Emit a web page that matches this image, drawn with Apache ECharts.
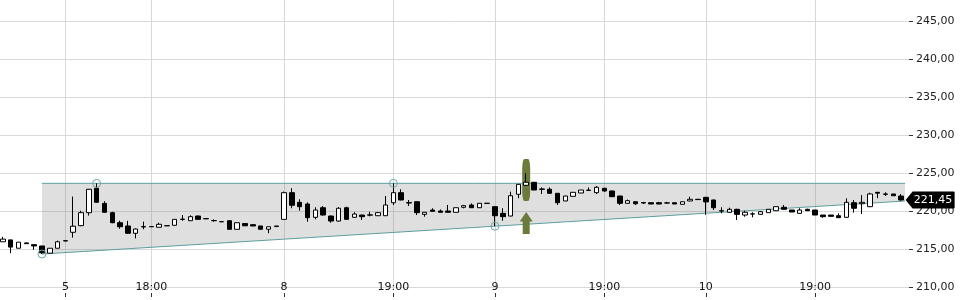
<!DOCTYPE html>
<html>
<head>
<meta charset="utf-8">
<script src="https://cdn.jsdelivr.net/npm/echarts@6/dist/echarts.min.js"></script>
<style>
html,body{margin:0;padding:0;background:#fff;}
#chart{width:960px;height:300px;}
</style>
</head>
<body>
<div id="chart"></div>
<script>
// ---- data ----
const open = [215.95,216.20,215.10,215.80,215.57,215.40,214.45,215.10,216.05,217.20,
218.07,219.78,223.00,221.00,219.78,218.46,218.03,217.07,217.90,217.93,
217.86,218.05,218.12,218.90,218.72,219.34,219.00,218.72,218.60,218.72,
217.59,218.35,218.20,218.03,217.60,217.95,218.90,222.41,221.14,220.92,
219.17,220.43,219.34,218.68,220.43,219.17,219.47,219.45,219.38,219.38,
221.09,222.41,221.10,221.22,219.56,220.13,220.00,220.00,219.83,220.49,
220.79,220.43,221.00,220.57,219.69,219.34,222.20,223.38,223.78,222.90,
222.86,222.33,221.32,221.93,222.37,222.70,222.41,222.99,222.63,221.97,
221.01,221.22,221.10,221.09,221.09,221.05,221.09,220.88,221.32,221.54,
221.80,221.45,220.04,219.83,220.22,219.47,219.60,219.56,219.78,220.04,
220.49,220.13,219.69,220.22,220.13,219.47,219.47,219.38,219.17,221.09,
220.96,220.57,222.46,222.24,222.24,221.97];
const close = [216.30,215.25,215.90,215.70,215.40,214.50,215.10,215.95,216.10,218.00,
219.78,222.86,221.15,219.83,218.46,217.93,217.07,217.63,217.95,217.95,
218.25,218.07,218.90,218.93,219.25,218.90,218.97,218.75,218.58,217.59,
218.46,218.05,218.03,217.60,217.93,218.03,222.41,220.75,220.57,219.12,
220.13,219.47,218.68,220.36,218.90,219.60,219.25,219.50,219.78,220.79,
222.41,221.45,221.05,219.78,219.83,219.96,219.83,219.83,220.43,220.70,
220.43,221.01,221.02,219.38,219.25,222.01,223.51,223.78,222.76,222.85,
222.33,221.09,221.97,222.46,222.76,222.75,223.12,222.63,221.88,221.01,
221.36,220.96,221.05,220.92,220.92,221.07,220.92,221.22,221.54,221.50,
221.20,220.43,220.00,220.22,219.56,219.83,219.62,219.91,220.22,220.57,
220.22,219.87,220.13,220.04,219.47,219.25,219.30,219.12,221.14,220.36,
221.14,222.24,222.35,222.20,222.01,221.45];
const low = [215.95,214.45,215.10,215.70,214.90,214.34,214.45,215.10,216.05,216.50,
218.00,219.40,221.10,219.80,218.40,217.67,217.00,216.40,217.60,217.90,
217.86,218.05,218.10,218.72,218.72,218.90,218.97,218.60,218.58,217.59,
217.59,218.03,218.03,217.55,217.07,217.95,218.90,220.36,220.04,218.59,
218.90,219.40,218.46,218.60,218.85,219.10,218.82,219.30,219.35,219.35,
220.79,221.40,220.66,219.47,219.25,219.96,219.83,219.83,219.83,220.35,
220.43,220.40,221.00,218.00,218.72,219.30,221.67,223.30,222.76,222.24,
222.30,220.79,221.30,221.90,222.37,222.70,222.24,222.55,221.85,220.79,
221.00,220.79,220.95,220.92,220.92,220.95,220.92,220.88,221.30,221.50,
219.50,220.13,219.69,219.80,218.82,219.25,219.17,219.50,219.78,220.04,
220.20,219.87,219.69,220.04,219.47,219.12,219.30,219.12,219.12,219.78,
219.60,220.50,221.67,221.97,222.01,221.36];
const high = [216.60,216.20,215.90,215.85,215.60,215.40,215.10,216.10,216.10,221.90,
220.04,222.90,223.64,221.28,219.90,218.72,218.70,217.70,218.60,217.95,
218.46,218.07,218.90,219.47,219.43,219.40,219.05,218.90,218.62,218.80,
218.46,218.38,218.25,218.05,217.95,218.03,222.55,223.00,221.54,221.14,
220.49,220.66,219.40,220.50,220.57,219.83,219.50,219.90,219.85,221.97,
223.64,222.86,221.45,221.25,219.85,220.36,220.20,220.79,220.43,220.80,
221.00,221.05,221.02,220.60,220.36,222.54,223.55,224.96,223.80,223.10,
223.10,222.35,222.00,222.50,222.76,223.10,223.29,223.00,222.70,222.00,
221.50,221.25,221.20,221.09,221.20,221.20,221.09,221.22,221.88,221.54,
221.85,221.50,220.49,220.43,220.30,220.04,219.83,220.00,220.22,220.57,
220.79,220.13,220.36,220.30,220.13,219.47,219.47,219.69,221.67,221.45,
222.10,222.41,222.50,222.46,222.24,222.24];

const labelIndex = [8, 19, 36, 50, 63, 77, 90, 104];
const tickLabels = ['5', '18:00', '8', '19:00', '9', '19:00', '10', '19:00'];

// channel anchors: [category index, price]
const upperAnchors = [[12, 223.64], [50, 223.64]];
const lowerAnchors = [[5, 214.34], [63, 218.00]];
const channelStart = 5;

// signal marker at candle index
const signalIndex = [67];
const signalBar = [224.08];
const signalArrow = [218.42];

const lastPrice = [221.45];

const categories = open.map((_, i) => String(i));
const candleData = open.map((o, i) => [o, close[i], low[i], high[i]]);
const FONT = 'DejaVu Sans';
const isLabel = (i) => labelIndex.indexOf(i) >= 0;
const fmt = (v) => v.toFixed(2).replace('.', ',');

function lineVal(anchors, i) {
  const [i0, v0] = anchors[0], [i1, v1] = anchors[1];
  return v0 + (i - i0) * (v1 - v0) / (i1 - i0);
}

const chart = echarts.init(document.getElementById('chart'), null, { renderer: 'canvas' });
chart.setOption({
  animation: false,
  backgroundColor: '#fff',
  grid: [
    { left: -1, right: 55, top: -17, bottom: 13, containLabel: false, outerBoundsMode: 'none' },
    { left: 0, right: 51, top: -17, bottom: 13, containLabel: false, outerBoundsMode: 'none' }
  ],
  xAxis: [
    {
      type: 'category', gridIndex: 0, data: categories, boundaryGap: true, offset: 6,
      axisLine: { show: false },
      axisTick: { show: true, alignWithLabel: true, length: 4, interval: isLabel, lineStyle: { color: '#333' } },
      axisLabel: {
        interval: isLabel, margin: -6, verticalAlign: 'middle',
        formatter: (v, i) => tickLabels[labelIndex.indexOf(i)] || '',
        fontFamily: FONT, fontSize: 11, color: '#111'
      },
      splitLine: { show: true, alignWithLabel: true, interval: isLabel, lineStyle: { color: '#d9d9d9', width: 1 } }
    },
    {
      type: 'category', gridIndex: 1, data: [''], show: false,
      axisLine: { show: false }, axisTick: { show: false }, axisLabel: { show: false }, splitLine: { show: false }
    }
  ],
  yAxis: [
    {
      type: 'value', gridIndex: 0, min: 210, max: 250, interval: 5, show: false,
      axisLine: { show: false, onZero: false }, axisTick: { show: false }, axisLabel: { show: false }, splitLine: { show: false }
    },
    {
      type: 'value', gridIndex: 1, position: 'right', min: 210, max: 250, interval: 5,
      axisLine: { show: false, onZero: false },
      axisTick: { show: true, length: 4, lineStyle: { color: '#333' } },
      axisLabel: { margin: 7, formatter: (v) => fmt(v), fontFamily: FONT, fontSize: 11, color: '#222' },
      splitLine: { show: true, lineStyle: { color: '#d9d9d9', width: 1 } }
    }
  ],
  series: [
    {
      type: 'custom', xAxisIndex: 0, yAxisIndex: 0, z: 1, silent: true, clip: false,
      data: [[0]],
      renderItem: function (params, api) {
        const half = api.size([1, 0])[0] / 2;
        const endIdx = categories.length - 1;
        const up = upperAnchors[0][1];
        const tl = api.coord([channelStart, up]);
        const tr = api.coord([endIdx, up]); tr[0] += half;
        const bl = api.coord([channelStart, lineVal(lowerAnchors, channelStart)]);
        const br = api.coord([endIdx, lineVal(lowerAnchors, endIdx + 0.5)]); br[0] += half;
        return {
          type: 'group',
          children: [
            { type: 'polygon', shape: { points: [tl, tr, br, bl] }, style: { fill: 'rgba(128,128,128,0.25)' } },
            { type: 'polyline', shape: { points: [tl, tr] }, style: { stroke: '#5f9ea0', lineWidth: 1, fill: null } },
            { type: 'polyline', shape: { points: [bl, br] }, style: { stroke: '#5f9ea0', lineWidth: 1, fill: null } }
          ]
        };
      }
    },
    {
      type: 'scatter', xAxisIndex: 0, yAxisIndex: 0, z: 1.5, silent: true,
      data: signalIndex.map((i, k) => [i, signalBar[k]]),
      symbol: 'roundRect', symbolSize: [8, 42],
      itemStyle: { color: '#6a7b3b', opacity: 1 }
    },
    {
      type: 'scatter', xAxisIndex: 0, yAxisIndex: 0, z: 1.5, silent: true,
      data: signalIndex.map((i, k) => [i, signalArrow[k]]),
      symbol: 'path://M6.5,0 L13,9.5 L10,9.5 L10,22 L3,22 L3,9.5 L0,9.5 Z', symbolSize: [13, 22],
      itemStyle: { color: '#6a7b3b', opacity: 1 }
    },
    {
      type: 'candlestick', xAxisIndex: 0, yAxisIndex: 0, z: 3, barWidth: 5,
      data: candleData,
      itemStyle: { color: '#ffffff', color0: '#000000', borderColor: '#000000', borderColor0: '#000000', borderColorDoji: '#000000', borderWidth: 1 }
    },
    {
      type: 'scatter', xAxisIndex: 0, yAxisIndex: 0, z: 4, silent: true, clip: false,
      data: upperAnchors.concat(lowerAnchors),
      symbol: 'circle', symbolSize: 8,
      itemStyle: { color: 'rgba(0,0,0,0)', borderColor: '#6fa9ab', borderWidth: 1, opacity: 1 }
    },
    {
      type: 'scatter', xAxisIndex: 0, yAxisIndex: 0, z: 5, silent: true, clip: false,
      data: lastPrice.map((p) => [categories.length - 1, p]),
      symbol: 'path://M0,8.5 L7,0 L48,0 Q49,0 49,1 L49,16 Q49,17 48,17 L7,17 Z',
      symbolSize: [49, 17], symbolOffset: [29, 0],
      itemStyle: { color: '#000', opacity: 1 },
      label: {
        show: true, position: 'inside', offset: [3, 0],
        formatter: (p) => fmt(p.value[1]),
        color: '#fff', fontFamily: FONT, fontSize: 11
      }
    }
  ]
});
</script>
</body>
</html>
